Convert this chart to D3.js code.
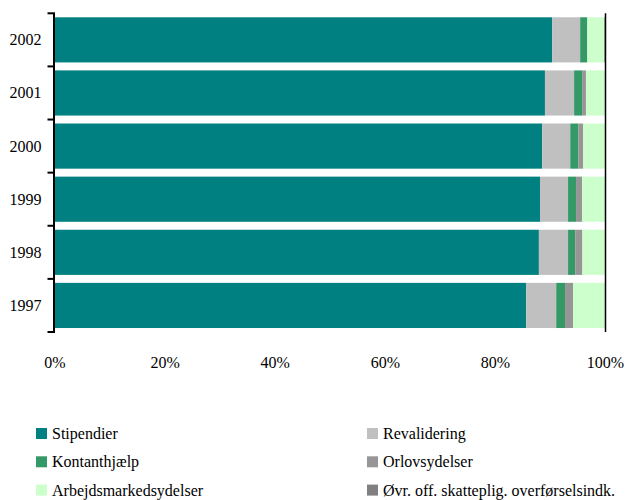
<!DOCTYPE html>
<html><head><meta charset="utf-8">
<script src="https://cdn.jsdelivr.net/npm/d3@7"></script>
<style>body{margin:0;background:#fff}svg{display:block}</style>
</head><body>
<svg id="c" width="629" height="500" font-family="'Liberation Serif', 'Times New Roman', Times, 'DejaVu Serif', serif"></svg>
<script>
const years = ["2002","2001","2000","1999","1998","1997"];
const seriesNames = ["Stipendier","Revalidering","Kontanthjælp","Orlovsydelser","Arbejdsmarkedsydelser","Øvr. off. skatteplig. overførselsindk."];
const stipendier    = [90.3, 89.0, 88.5, 88.1, 87.9, 85.6];
const revalidering  = [5.1, 5.3, 5.1, 5.1, 5.3, 5.45];
const kontanthjaelp = [1.3, 1.45, 1.45, 1.45, 1.3, 1.6];
const orlov         = [0.0, 0.7, 0.9, 1.1, 1.3, 1.45];
const arbejdsmarked = [3.1, 3.45, 4.0, 4.15, 4.2, 5.8];
const oevrige       = [0.2, 0.1, 0.05, 0.1, 0.0, 0.1];
const xTicks = [0, 0.2, 0.4, 0.6, 0.8, 1.0];
const colors = ["#008080","#C0C0C0","#339966","#969696","#CCFFCC","#808080"];

const seriesVals = [stipendier, revalidering, kontanthjaelp, orlov, arbejdsmarked, oevrige];
const rows = years.map((y,i)=>{const o={year:y}; seriesNames.forEach((s,j)=>o[s]=seriesVals[j][i]); return o;});
const stacked = d3.stack().keys(seriesNames).offset(d3.stackOffsetExpand)(rows);

const svg = d3.select("#c");
const x = d3.scaleLinear().domain([0,1]).range([55,605.5]);
const y = d3.scaleBand().domain(years).range([13.3,332]).paddingInner(0.15).paddingOuter(0.075);

svg.append("g").selectAll("g").data(stacked).join("g").attr("fill",(d,i)=>colors[i])
  .selectAll("rect").data(d=>d).join("rect")
  .attr("x",d=>x(d[0])).attr("width",d=>Math.max(0,x(d[1])-x(d[0])))
  .attr("y",d=>y(d.data.year)).attr("height",y.bandwidth());

// right border line at 100%
svg.append("line").attr("x1",x(1)).attr("x2",x(1)).attr("y1",13.3).attr("y2",332)
  .attr("stroke","#000").attr("stroke-width",1.5);

// left axis
svg.append("line").attr("x1",54).attr("x2",54).attr("y1",13.3).attr("y2",332).attr("stroke","#000").attr("stroke-width",2);
const bounds = d3.range(years.length+1).map(i=>13.3 + i*(318.7/years.length));
svg.append("g").selectAll("line").data(bounds).join("line")
  .attr("x1",47.5).attr("x2",55).attr("y1",d=>d).attr("y2",d=>d).attr("stroke","#000").attr("stroke-width",2);
svg.append("g").selectAll("text").data(years).join("text")
  .attr("x",41.5).attr("y",d=>y(d)+y.bandwidth()/2).attr("dy","0.34em")
  .attr("text-anchor","end").attr("font-size",16).attr("fill","#000").text(d=>d);

// x labels
svg.append("g").selectAll("text").data(xTicks).join("text")
  .attr("x",d=>x(d)).attr("y",368).attr("text-anchor","middle").attr("font-size",16).attr("fill","#000")
  .text(d=>d3.format(".0%")(d));

// legend
const leg = svg.append("g").selectAll("g").data(seriesNames).join("g")
  .attr("transform",(d,i)=>`translate(${i%2===0?36:367},${428+Math.floor(i/2)*28.3})`);
leg.append("rect").attr("width",11).attr("height",11).attr("fill",(d,i)=>colors[i]);
leg.append("text").attr("x",16).attr("y",11).attr("font-size",16).attr("fill","#000").text(d=>d);
</script>
</body></html>
